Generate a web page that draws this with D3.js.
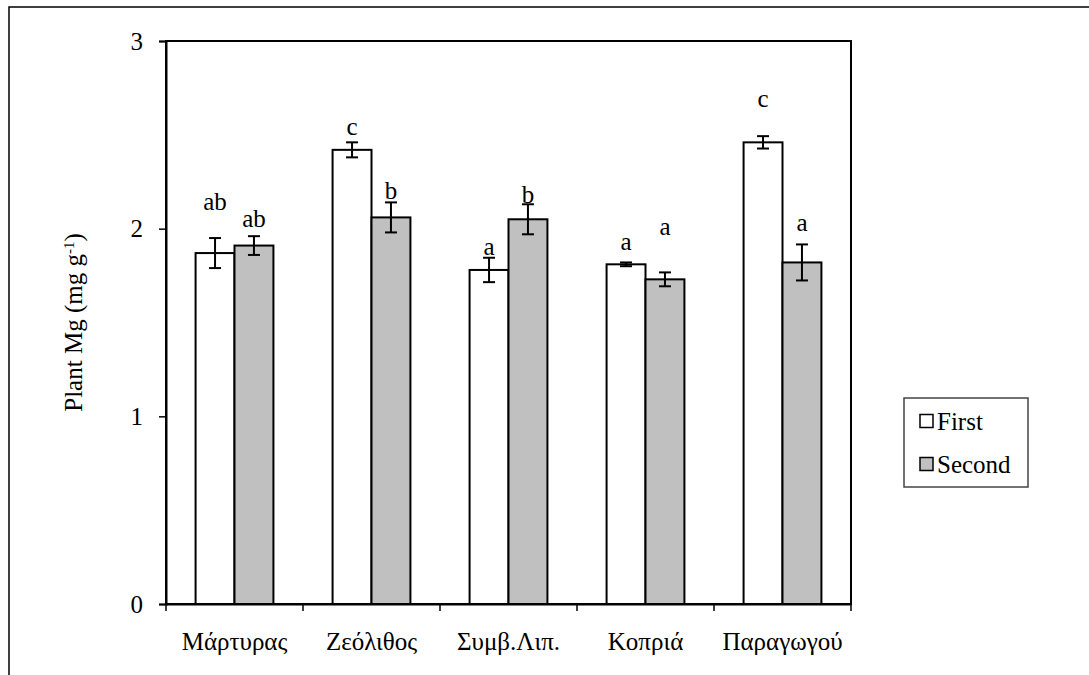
<!DOCTYPE html>
<html>
<head>
<meta charset="utf-8">
<script src="https://cdn.jsdelivr.net/npm/d3@7"></script>
<style>
  body { margin: 0; background: #fff; }
</style>
</head>
<body>
<script>
// data
const categories = ['Μάρτυρας', 'Ζεόλιθος', 'Συμβ.Λιπ.', 'Κοπριά', 'Παραγωγού']
const series = ['First', 'Second']
const firstVals = [1.87, 2.42, 1.78, 1.81, 2.46]
const secondVals = [1.91, 2.06, 2.05, 1.73, 1.82]
const firstErr = [0.08, 0.04, 0.065, 0.01, 0.033]
const secondErr = [0.05, 0.08, 0.08, 0.037, 0.096]
const firstLetters = ['ab', 'c', 'a', 'a', 'c']
const secondLetters = ['ab', 'b', 'b', 'a', 'a']
// where the letters sit (in axis units)
const firstLetterY = [2.14, 2.54, 1.90, 1.93, 2.69]
const secondLetterY = [2.05, 2.20, 2.18, 2.01, 2.03]
const yTicks = [0, 1, 2, 3]

const w = 1089
const h = 675
const plotL = 166, plotR = 851, plotT = 41, plotB = 604
const colors = { First: '#ffffff', Second: '#c0c0c0' }
const serif = '"Liberation Serif", "Times New Roman", serif'
const fs = '25px'

const rows = []
categories.forEach((c, i) => {
  rows.push({ cat: c, s: 'First', v: firstVals[i], e: firstErr[i], l: firstLetters[i], ly: firstLetterY[i] })
  rows.push({ cat: c, s: 'Second', v: secondVals[i], e: secondErr[i], l: secondLetters[i], ly: secondLetterY[i] })
})

const svg = d3.select('body').append('svg')
  .attr('width', w)
  .attr('height', h)
  .style('font-family', serif)

// outer frame
svg.append('rect')
  .attr('x', 9).attr('y', 7)
  .attr('width', w + 10).attr('height', h + 10)
  .attr('fill', 'none').attr('stroke', '#000').attr('stroke-width', 1.5)

const x0 = d3.scaleBand().domain(categories).range([plotL, plotR]).padding(0)
const x1 = d3.scaleBand().domain(series).range([0, x0.bandwidth()]).paddingInner(0).paddingOuter(0.76)
const y = d3.scaleLinear().domain([0, 3]).range([plotB, plotT])

// plot frame
svg.append('rect')
  .attr('x', plotL).attr('y', plotT)
  .attr('width', plotR - plotL).attr('height', plotB - plotT)
  .attr('fill', 'none').attr('stroke', '#000').attr('stroke-width', 2)

// bars
svg.selectAll('rect.bar')
  .data(rows)
  .enter()
  .append('rect')
  .attr('class', 'bar')
  .attr('x', d => x0(d.cat) + x1(d.s))
  .attr('y', d => y(d.v))
  .attr('width', x1.bandwidth())
  .attr('height', d => y(0) - y(d.v))
  .attr('fill', d => colors[d.s])
  .attr('stroke', '#000')
  .attr('stroke-width', 2)

// error bars
const cx = d => x0(d.cat) + x1(d.s) + x1.bandwidth() / 2
const eb = svg.append('g').attr('stroke', '#000').attr('stroke-width', 2)
eb.selectAll('line.v').data(rows).enter().append('line')
  .attr('x1', cx).attr('x2', cx)
  .attr('y1', d => y(d.v + d.e)).attr('y2', d => y(d.v - d.e))
eb.selectAll('line.t').data(rows).enter().append('line')
  .attr('x1', d => cx(d) - 6).attr('x2', d => cx(d) + 6)
  .attr('y1', d => y(d.v + d.e)).attr('y2', d => y(d.v + d.e))
eb.selectAll('line.b').data(rows).enter().append('line')
  .attr('x1', d => cx(d) - 6).attr('x2', d => cx(d) + 6)
  .attr('y1', d => y(d.v - d.e)).attr('y2', d => y(d.v - d.e))

// letters
svg.selectAll('text.letter')
  .data(rows)
  .enter()
  .append('text')
  .attr('x', cx)
  .attr('y', d => y(d.ly))
  .attr('dy', '0.32em')
  .attr('text-anchor', 'middle')
  .style('font-family', serif)
  .style('font-size', fs)
  .text(d => d.l)

// axes
const yAxis = d3.axisLeft(y).tickValues(yTicks).tickFormat(d3.format('d')).tickSize(7).tickPadding(16)
const gy = svg.append('g')
  .attr('transform', 'translate(' + plotL + ',0)')
  .call(yAxis)
gy.select('.domain').attr('stroke-width', 2)
gy.selectAll('.tick line').attr('stroke-width', 1.5)
gy.selectAll('.tick text').style('font-family', serif).style('font-size', fs)

const xAxis = d3.axisBottom(x0).tickSize(0).tickPadding(28)
const gx = svg.append('g')
  .attr('transform', 'translate(0,' + plotB + ')')
  .call(xAxis)
gx.select('.domain').attr('stroke-width', 2)
gx.selectAll('.tick text').style('font-family', serif).style('font-size', fs)

// boundary ticks between groups
const bounds = categories.map(c => x0(c)).concat([plotR])
gx.selectAll('line.bt').data(bounds).enter().append('line')
  .attr('x1', d => d).attr('x2', d => d)
  .attr('y1', 0).attr('y2', 7)
  .attr('stroke', '#000').attr('stroke-width', 1.5)

// y title
const yt = svg.append('text')
  .attr('transform', 'translate(82,' + ((plotT + plotB) / 2) + ') rotate(-90)')
  .attr('text-anchor', 'middle')
  .style('font-family', serif)
  .style('font-size', fs)
yt.append('tspan').text('Plant Mg (mg g')
yt.append('tspan').attr('baseline-shift', 'super').style('font-size', '15px').text('-1')
yt.append('tspan').text(')')

// legend
const lg = svg.append('g')
lg.append('rect')
  .attr('x', 904).attr('y', 398)
  .attr('width', 124).attr('height', 89)
  .attr('fill', '#fff').attr('stroke', '#444').attr('stroke-width', 1.5)
const items = lg.selectAll('g.item').data(series).enter().append('g')
  .attr('transform', (d, i) => 'translate(920,' + (421 + i * 43) + ')')
items.append('rect')
  .attr('x', 0).attr('y', -6.5)
  .attr('width', 13).attr('height', 13)
  .attr('fill', d => colors[d]).attr('stroke', '#000').attr('stroke-width', 1.5)
items.append('text')
  .attr('x', 17).attr('dy', '0.35em')
  .style('font-family', serif)
  .style('font-size', fs)
  .text(d => d)
</script>
</body>
</html>
